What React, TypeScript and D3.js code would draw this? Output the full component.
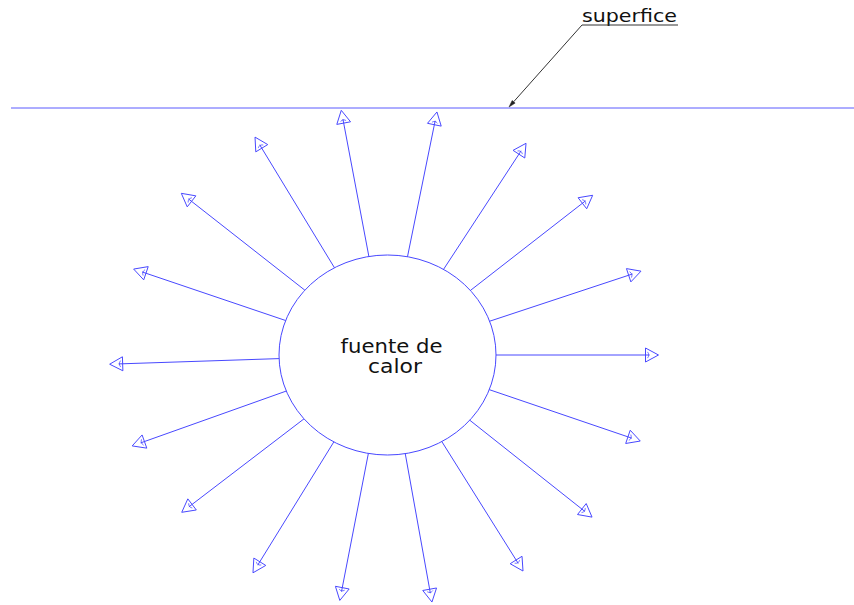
import React from "react";
import * as d3 from "d3";

// Arrow directions (degrees clockwise from up) and tip distances from the source centre
const arrowAngles = [-10.7, 11.5, 33.2, 52.1, 71.7, 90.0, 108.8, 128.4, 147.9, 169.8, -169.0, -148.3, -127.4, -109.6, -91.9, -71.3, -51.9, -31.3];
const arrowLengths = [249, 248, 253, 260, 267, 271, 267, 261, 255, 251, 250, 256, 259, 271, 278, 268, 262, 255];
const sourceLabel = ["fuente de", "calor"];
const surfaceLabel = "superfice";

const W = 854;
const H = 605;
const CX = 387.5;
const CY = 355;
const RX = 108.5;
const RY = 100;
const SURFACE_Y = 108;
const BLUE = "#4848ff";

function ellipseRadius(a: number) {
  const s = Math.sin(a);
  const c = Math.cos(a);
  return 1 / Math.sqrt((s / RX) ** 2 + (c / RY) ** 2);
}

export default function App() {
  const toRad = d3.scaleLinear().domain([0, 180]).range([0, Math.PI]);
  const HEAD = 13;
  const HALF = 7;

  const arrows = arrowAngles.map((deg, i) => {
    const a = toRad(deg);
    const L = arrowLengths[i];
    const r0 = ellipseRadius(a);
    const [sx, sy] = d3.pointRadial(a, r0);
    const [tx, ty] = d3.pointRadial(a, L);
    const [bx, by] = d3.pointRadial(a, L - HEAD);
    const [mx, my] = d3.pointRadial(a, L - HEAD + 4);
    const px = Math.cos(a);
    const py = Math.sin(a);
    const p1: [number, number] = [bx + px * HALF, by + py * HALF];
    const p2: [number, number] = [bx - px * HALF, by - py * HALF];
    const arc = d3.line().curve(d3.curveBasis)([
      d3.pointRadial(a - 0.012, L - HEAD + 2) as [number, number],
      [mx, my],
      d3.pointRadial(a + 0.012, L - HEAD + 2) as [number, number],
    ]) as string;
    return { sx, sy, tx, ty, bx, by, mx, my, p1, p2, arc };
  });

  // leader for "superfice"
  const lx0 = 582, ly0 = 25, lx1 = 509, ly1 = SURFACE_Y - 1;
  const ang = Math.atan2(ly1 - ly0, lx1 - lx0);
  const hl = 7, hw = 2;
  const hbx = lx1 - Math.cos(ang) * hl;
  const hby = ly1 - Math.sin(ang) * hl;
  const lead = d3.line()([
    [lx1, ly1],
    [hbx - Math.sin(ang) * hw, hby + Math.cos(ang) * hw],
    [hbx + Math.sin(ang) * hw, hby - Math.cos(ang) * hw],
  ]) + "Z";

  return (
    <svg width={W} height={H} style={{ position: "absolute", left: 0, top: 0, background: "#fff" }}>
      <line x1={11} x2={W} y1={SURFACE_Y} y2={SURFACE_Y} stroke="#5a5aff" strokeWidth={1} />
      <g transform={`translate(${CX},${CY})`} fill="none" stroke={BLUE} strokeWidth={1}>
        <ellipse cx={0} cy={0} rx={RX} ry={RY} />
        {arrows.map((d, i) => (
          <g key={i}>
            <line x1={d.sx} y1={d.sy} x2={d.mx} y2={d.my} />
            <path d={(d3.line()([[d.tx, d.ty], d.p1, d.p2]) as string) + "Z"} />
            <path d={d.arc} strokeWidth={0.8} />
          </g>
        ))}
      </g>
      <g fill="#111" fontFamily="'DejaVu Sans', sans-serif" fontSize={19}>
        <text x={391.5} y={353} textAnchor="middle" textLength={102} lengthAdjust="spacingAndGlyphs">{sourceLabel[0]}</text>
        <text x={395} y={373} textAnchor="middle" textLength={54} lengthAdjust="spacingAndGlyphs">{sourceLabel[1]}</text>
      </g>
      <text x={582} y={22} fontFamily="'DejaVu Sans', sans-serif" fontSize={17} fill="#111" textLength={95} lengthAdjust="spacingAndGlyphs">{surfaceLabel}</text>
      <g stroke="#333" strokeWidth={1}>
        <line x1={582} y1={25} x2={678} y2={25} />
        <line x1={lx0} y1={ly0} x2={hbx} y2={hby} />
      </g>
      <path d={lead} fill="#222" stroke="#222" strokeWidth={0.5} />
    </svg>
  );
}
